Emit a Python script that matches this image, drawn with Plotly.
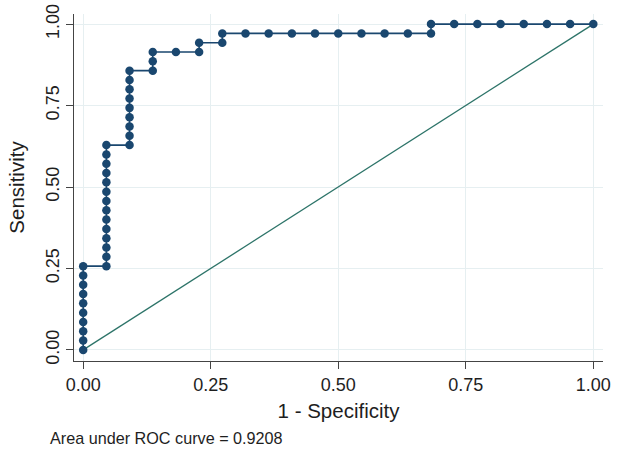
import plotly.graph_objects as go

# 1 - Specificity (false positive rate) at each cutoff
fpr = [0, 0, 0, 0, 0, 0, 0, 0, 0, 0,
       0.0455, 0.0455, 0.0455, 0.0455, 0.0455, 0.0455, 0.0455, 0.0455, 0.0455, 0.0455, 0.0455, 0.0455, 0.0455, 0.0455,
       0.0909, 0.0909, 0.0909, 0.0909, 0.0909, 0.0909, 0.0909, 0.0909, 0.0909,
       0.1364, 0.1364, 0.1364,
       0.1818,
       0.2273, 0.2273,
       0.2727, 0.2727,
       0.3182, 0.3636, 0.4091, 0.4545, 0.5, 0.5455, 0.5909, 0.6364,
       0.6818, 0.6818,
       0.7273, 0.7727, 0.8182, 0.8636, 0.9091, 0.9545, 1.0]
# Sensitivity (true positive rate) at each cutoff
tpr = [0, 0.0286, 0.0571, 0.0857, 0.1143, 0.1429, 0.1714, 0.2, 0.2286, 0.2571,
       0.2571, 0.2857, 0.3143, 0.3429, 0.3714, 0.4, 0.4286, 0.4571, 0.4857, 0.5143, 0.5429, 0.5714, 0.6, 0.6286,
       0.6286, 0.6571, 0.6857, 0.7143, 0.7429, 0.7714, 0.8, 0.8286, 0.8571,
       0.8571, 0.8857, 0.9143,
       0.9143,
       0.9143, 0.9429,
       0.9429, 0.9714,
       0.9714, 0.9714, 0.9714, 0.9714, 0.9714, 0.9714, 0.9714, 0.9714,
       0.9714, 1.0,
       1.0, 1.0, 1.0, 1.0, 1.0, 1.0, 1.0]

ref_x = [0, 1]
ref_y = [0, 1]
ticks = [0, 0.25, 0.5, 0.75, 1.0]
tick_text = ["0.00", "0.25", "0.50", "0.75", "1.00"]
auc_text = "Area under ROC curve = 0.9208"

FONT = "Liberation Sans, Arial, sans-serif"
navy = "#1a476f"

fig = go.Figure()
fig.add_trace(go.Scatter(x=ref_x, y=ref_y, mode="lines",
                         line=dict(color="#2d7469", width=1.3), hoverinfo="skip"))
fig.add_trace(go.Scatter(x=fpr, y=tpr, mode="lines+markers",
                         line=dict(color=navy, width=1.6),
                         marker=dict(color=navy, size=8.5)))

axis_common = dict(
    showgrid=True, gridcolor="#e6eff1", gridwidth=1,
    zeroline=False, showline=True, linecolor="#444444", linewidth=1.3,
    ticks="outside", ticklen=7, tickcolor="#444444", tickwidth=1.3,
    tickfont=dict(family=FONT, size=18, color="#1e1e1e"),
    tickvals=ticks, ticktext=tick_text, automargin=False,
)

fig.update_layout(
    width=620, height=452,
    margin=dict(l=74, r=17, t=14, b=91),
    paper_bgcolor="white", plot_bgcolor="white",
    showlegend=False,
    font=dict(family=FONT, color="#1e1e1e"),
    xaxis=dict(range=[-0.018, 1.019],
               title=dict(text="1 - Specificity", font=dict(family=FONT, size=20.5), standoff=9),
               **axis_common),
    yaxis=dict(range=[-0.034, 1.031], tickangle=-90,
               title=dict(text="Sensitivity", font=dict(family=FONT, size=20.5), standoff=12),
               **axis_common),
    annotations=[dict(text=auc_text, xref="paper", yref="paper", x=-0.0491, y=-0.2205,
                      xanchor="left", yanchor="middle", showarrow=False,
                      font=dict(family=FONT, size=16.2, color="#1e1e1e"))],
)

fig.write_html("out.html", config={"displayModeBar": False},
               post_script="document.body.style.margin='0';")
